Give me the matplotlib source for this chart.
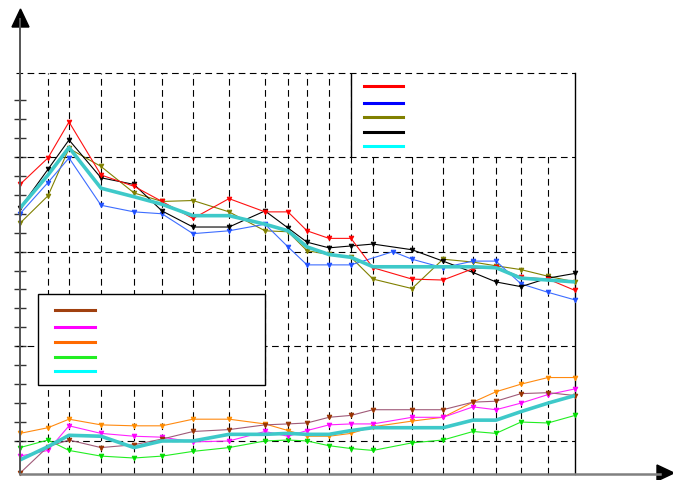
import matplotlib
matplotlib.use("Agg")
import matplotlib.pyplot as plt
from matplotlib.lines import Line2D
from matplotlib.patches import Rectangle, Polygon

# ---- data (x positions of samples, arbitrary units) ----
x_pos = [0, 28, 49, 81, 114, 142, 173, 209, 245, 268, 287, 309, 331, 353, 392, 423, 453, 476, 501, 528, 555]
x_blue = [0, 28, 49, 81, 114, 142, 173, 209, 245, 268, 287, 309, 331, 373, 392, 423, 453, 476, 501, 528, 555]

red = [37.1, 39.9, 43.7, 38.1, 36.9, 35.3, 33.5, 35.6, 34.2, 34.2, 32.2, 31.4, 31.4, 28.3, 27.1, 27.0, 28.2, 28.4, 27.3, 27.1, 25.9]
black = [34.6, 38.7, 41.8, 37.8, 37.1, 34.3, 32.6, 32.6, 34.3, 32.5, 31.0, 30.4, 30.6, 30.8, 30.2, 29.0, 27.8, 26.8, 26.3, 27.2, 27.7]
blue = [34.0, 37.3, 39.9, 34.9, 34.2, 34.0, 31.9, 32.2, 32.9, 30.5, 28.6, 28.6, 28.6, 30.0, 29.2, 28.3, 29.0, 29.0, 26.6, 25.7, 24.9]
olive = [33.0, 35.9, 40.9, 39.0, 36.2, 35.3, 35.4, 34.2, 32.2, 32.1, 30.1, 29.7, 29.4, 27.1, 26.1, 29.2, 28.9, 28.5, 28.1, 27.4, 26.8]
cyan_top = [34.6, 38.1, 41.0, 36.7, 35.8, 35.0, 33.8, 33.8, 32.9, 32.2, 30.5, 29.7, 29.4, 28.4, 28.4, 28.4, 28.4, 28.3, 27.2, 27.0, 26.8]

orange = [10.8, 11.4, 12.3, 11.7, 11.6, 11.6, 12.3, 12.3, 11.8, 11.1, 10.5, 10.5, 10.8, 11.5, 12.1, 12.5, 14.1, 15.2, 16.0, 16.7, 16.7]
magenta = [8.4, 9.0, 11.6, 10.8, 10.5, 10.4, 9.9, 10.0, 11.0, 10.5, 11.1, 11.7, 11.8, 11.8, 12.5, 12.5, 13.6, 13.3, 14.0, 14.9, 15.5]
green = [9.3, 10.1, 9.0, 8.4, 8.2, 8.4, 8.9, 9.3, 10.0, 10.1, 10.0, 9.5, 9.2, 9.0, 9.8, 10.1, 11.0, 10.8, 12.0, 11.9, 12.7]
brown = [6.6, 9.4, 10.1, 9.3, 9.6, 10.2, 11.0, 11.2, 11.7, 11.8, 11.9, 12.5, 12.7, 13.3, 13.3, 13.3, 14.1, 14.2, 15.0, 15.1, 14.8]
cyan_bot = [8.0, 9.4, 10.6, 10.5, 9.3, 10.0, 10.0, 10.7, 10.7, 10.8, 10.7, 10.7, 11.1, 11.4, 11.4, 11.4, 12.2, 12.2, 13.1, 14.0, 14.8]

y_major = [10, 20, 30, 40]
y_minor = [12, 14, 16, 18, 22, 24, 26, 28, 32, 34, 36, 38, 42, 44, 46]
x_grid = x_pos[1:-1]

W, H = 673, 481
fig = plt.figure(figsize=(W / 100, H / 100), dpi=100)


def fx(px):
    return px / W


def fy(py):
    return 1 - py / H


ax = fig.add_axes([fx(20), fy(475), (575 - 20) / W, (475 - 74) / H])
XMIN, XMAX = 0, 555
YMIN, YMAX = 6.51, 48.87
ax.set_xlim(XMIN, XMAX)
ax.set_ylim(YMIN, YMAX)
for s in ["top", "left", "bottom"]:
    ax.spines[s].set_visible(False)
ax.spines["right"].set_color("black")
ax.spines["right"].set_linewidth(1.0)
ax.set_xticks([])
ax.set_yticks(y_major + y_minor)
ax.set_yticklabels([])
ax.tick_params(axis="y", direction="inout", length=8.6, width=1.0, color="#333333")

dash = (0, (6, 4))
# grid
ax.vlines(x_grid, YMIN, YMAX, colors="black", linestyles=dash, linewidth=0.8, zorder=1)
ax.hlines(y_major + [YMAX], -4.5, XMAX, colors="black", linestyles=dash, linewidth=0.8,
          zorder=3, clip_on=False)

# top legend box (white) in data coords
ax.add_patch(Rectangle((331, 40), XMAX - 331, YMAX - 40, facecolor="white", edgecolor="none", zorder=2))
ax.vlines([331], 40, YMAX, colors="black", linewidth=1.0, zorder=3)


def series(x, y, lc, mc, lw=0.8, ms=3.4):
    ax.plot(x, y, color=lc, lw=lw, marker="v", ms=ms, mfc=mc, mec=mc, mew=0.6,
            zorder=4, clip_on=False)


series(x_pos, olive, "#808000", "#808000")
series(x_blue, blue, "#3d6dff", "#2050ff")
series(x_pos, black, "black", "black")
series(x_pos, red, "#ff1010", "#ff0000")
ax.plot(x_pos, cyan_top, color="#3ec9c9", lw=2.6, zorder=5, solid_capstyle="butt")

series(x_pos, green, "#22ee22", "#00dd00")
series(x_pos, orange, "#ff8a10", "#ff8c00")
series(x_pos, magenta, "#ff22ff", "#ff00ff")
series(x_pos, brown, "#a05a78", "#993300")
ax.plot(x_pos, cyan_bot, color="#3ec9c9", lw=2.6, zorder=5, solid_capstyle="butt")

# axis lines with arrows (figure pixels)
fig.add_artist(Line2D([fx(20), fx(20)], [fy(475), fy(20)], color="#555555", lw=1.4))
fig.add_artist(Line2D([fx(20), fx(660)], [fy(475), fy(475)], color="#808080", lw=1.8))
fig.add_artist(Polygon([[fx(12), fy(28)], [fx(29), fy(28)], [fx(20.5), fy(10)]], closed=True,
                       facecolor="black", edgecolor="black", transform=fig.transFigure))
fig.add_artist(Polygon([[fx(657), fy(466)], [fx(657), fy(482)], [fx(674), fy(474)]], closed=True,
                       facecolor="black", edgecolor="black", transform=fig.transFigure))

# top legend entries
top_cols = ["#ff0000", "#0000ff", "#808000", "#000000", "#00ffff"]
top_y = [87, 104, 118, 133, 147]
for c, yy in zip(top_cols, top_y):
    fig.add_artist(Line2D([fx(364), fx(403)], [fy(yy), fy(yy)], color=c, lw=2.2, zorder=6))

# bottom legend box and entries
fig.add_artist(Rectangle((fx(38), fy(386)), (265 - 38) / W, (386 - 295) / H, facecolor="white",
                         edgecolor="black", lw=1.0, transform=fig.transFigure, zorder=6))
bot_cols = ["#a0400f", "#ff00ff", "#ff6a00", "#22ee22", "#00ffff"]
bot_y = [311, 328, 343, 358, 372]
for c, yy in zip(bot_cols, bot_y):
    fig.add_artist(Line2D([fx(55), fx(95)], [fy(yy), fy(yy)], color=c, lw=2.2, zorder=7))

fig.savefig("out.png", dpi=100)
